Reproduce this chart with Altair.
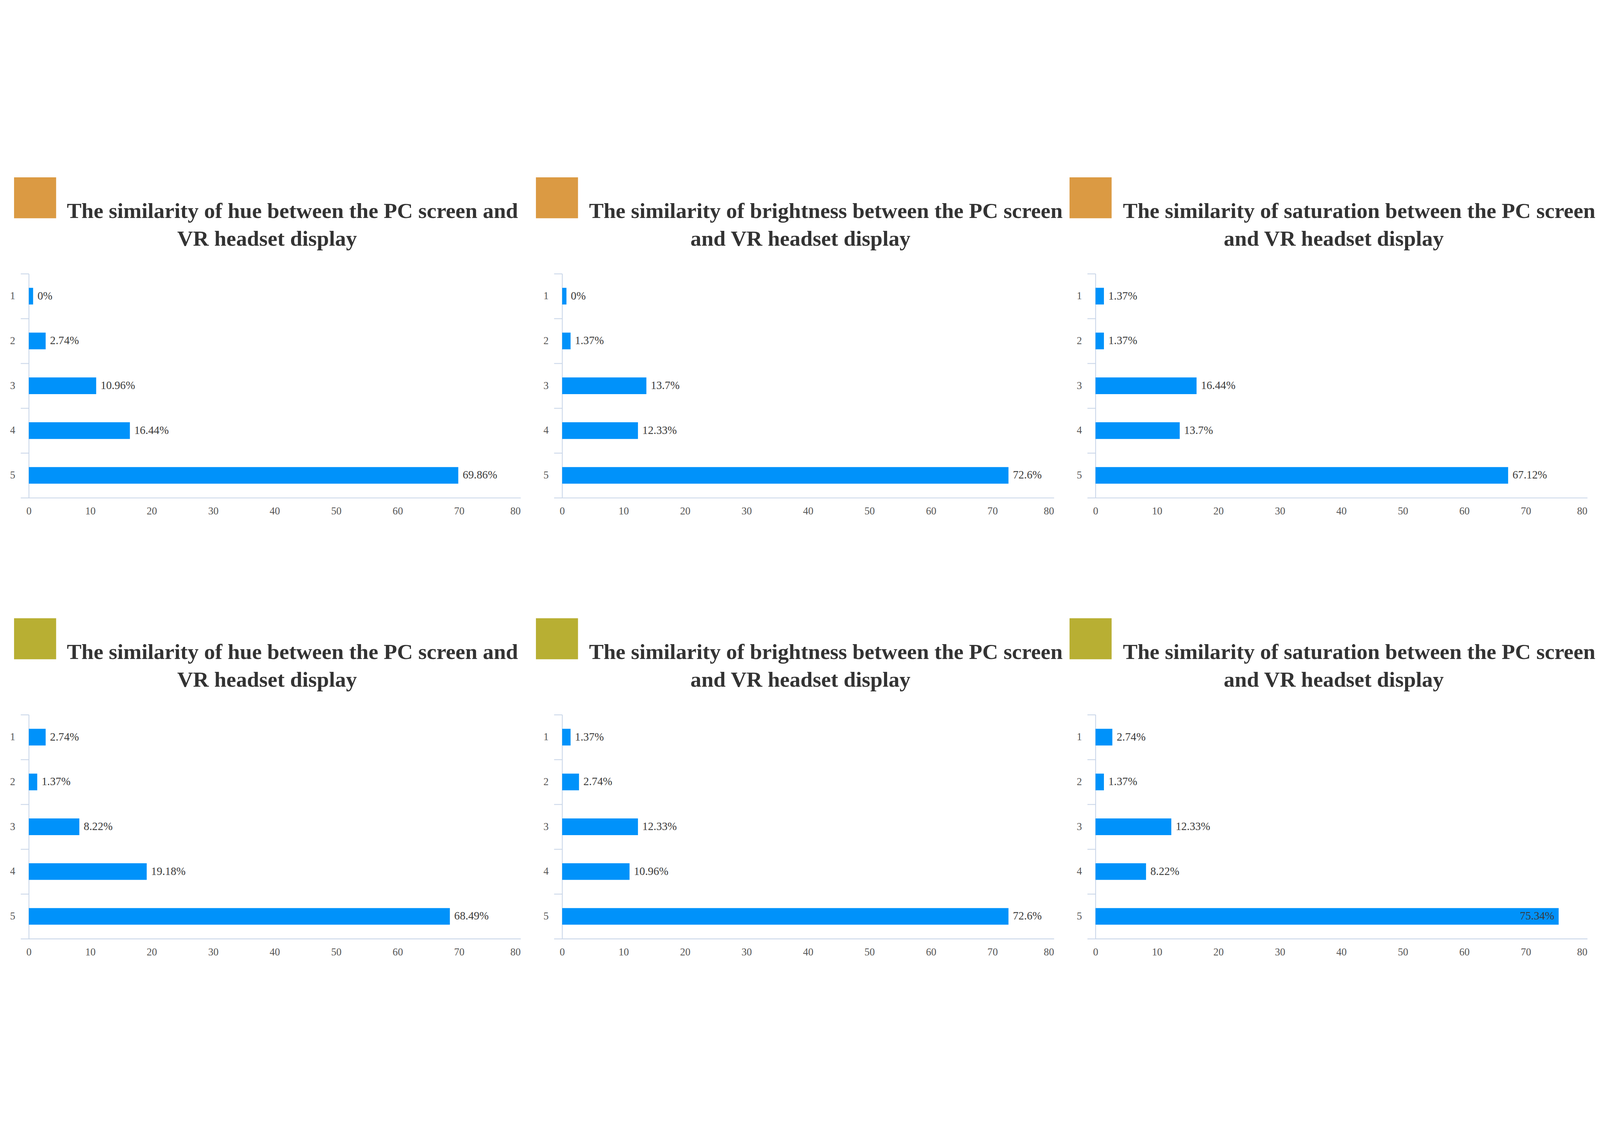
import altair as alt
import pandas as pd

# ---- data ----
categories = ["1", "2", "3", "4", "5"]
hue_a = [0, 2.74, 10.96, 16.44, 69.86]
bright_a = [0, 1.37, 13.7, 12.33, 72.6]
sat_a = [1.37, 1.37, 16.44, 13.7, 67.12]
hue_b = [2.74, 1.37, 8.22, 19.18, 68.49]
bright_b = [1.37, 2.74, 12.33, 10.96, 72.6]
sat_b = [2.74, 1.37, 12.33, 8.22, 75.34]

title_hue = ["The similarity of hue between the PC screen and", "VR headset display"]
title_bright = ["The similarity of brightness between the PC screen", "and VR headset display"]
title_sat = ["The similarity of saturation between the PC screen", "and VR headset display"]

x_ticks = [0, 10, 20, 30, 40, 50, 60, 70, 80]

ORANGE = "#DB9A43"
OLIVE = "#B8AF33"
BLUE = "#0092FA"
AXIS_C = "#C8D5E8"
W, H = 1800, 820


def panel(values, title, swatch, sq_x):
    df = pd.DataFrame({
        "cat": categories,
        "value": values,
        "label": [f"{v:g}%" for v in values],
    })
    base = alt.Chart(df).transform_calculate(barlen="max(datum.value, 0.7)")
    y = alt.Y("cat:O", sort=categories, title=None,
              scale=alt.Scale(paddingInner=0, paddingOuter=0),
              axis=alt.Axis(tickBand="extent", tickSize=30, tickColor=AXIS_C,
                            tickWidth=3, domainColor=AXIS_C, domainWidth=3,
                            labelFont="Liberation Serif", labelFontSize=38,
                            labelColor="#555555", labelPadding=20, labelAngle=0))
    x = alt.X("barlen:Q", title=None,
              scale=alt.Scale(domain=[0, 80], nice=False),
              axis=alt.Axis(values=x_ticks, ticks=False, grid=False,
                            domainColor=AXIS_C, domainWidth=3,
                            labelFont="Liberation Serif", labelFontSize=38,
                            labelColor="#555555", labelPadding=30,
                            labelAlign={"condition": {"test": "datum.value == 80", "value": "right"},
                                        "value": "center"}))
    bars = base.mark_bar(color=BLUE, height={"band": 0.372}).encode(y=y, x=x)
    lab_out = base.transform_filter("datum.value < 74").mark_text(
        align="left", baseline="middle", dx=16, font="Liberation Serif",
        fontSize=41, color="#3a3a3a").encode(y=alt.Y("cat:O", sort=categories),
                                             x="barlen:Q", text="label:N")
    lab_in = base.transform_filter("datum.value >= 74").mark_text(
        align="right", baseline="middle", dx=-16, font="Liberation Serif",
        fontSize=41, color="#3a3a3a").encode(y=alt.Y("cat:O", sort=categories),
                                             x="barlen:Q", text="label:N")
    one = pd.DataFrame({"k": [0]})
    square = alt.Chart(one).mark_rect(color=swatch).encode(
        x=alt.value(sq_x), x2=alt.value(sq_x + 154),
        y=alt.value(-353), y2=alt.value(-203))
    t1 = alt.Chart(one).mark_text(
        align="center", baseline="alphabetic", font="Liberation Serif",
        fontSize=80, fontWeight="bold", color="#333333").encode(
        x=alt.value(965), y=alt.value(-204), text=alt.value(title[0]))
    t2 = alt.Chart(one).mark_text(
        align="center", baseline="alphabetic", font="Liberation Serif",
        fontSize=80, fontWeight="bold", color="#333333").encode(
        x=alt.value(872), y=alt.value(-103), text=alt.value(title[1]))
    return alt.layer(bars, lab_out, lab_in, square, t1, t2).properties(width=W, height=H)


panels = [
    panel(hue_a, title_hue, ORANGE, -54),
    panel(bright_a, title_bright, ORANGE, -96),
    panel(sat_a, title_sat, ORANGE, -95),
    panel(hue_b, title_hue, OLIVE, -54),
    panel(bright_b, title_bright, OLIVE, -96),
    panel(sat_b, title_sat, OLIVE, -95),
]

chart = alt.concat(*panels, columns=3, spacing={"row": 794, "column": 152},
                   bounds="flush").properties(
    padding={"left": 25, "top": 19, "right": 5, "bottom": 5}
).configure(background="white").configure_view(stroke=None)

chart.save("out.html", embed_options={"renderer": "svg", "actions": False})
